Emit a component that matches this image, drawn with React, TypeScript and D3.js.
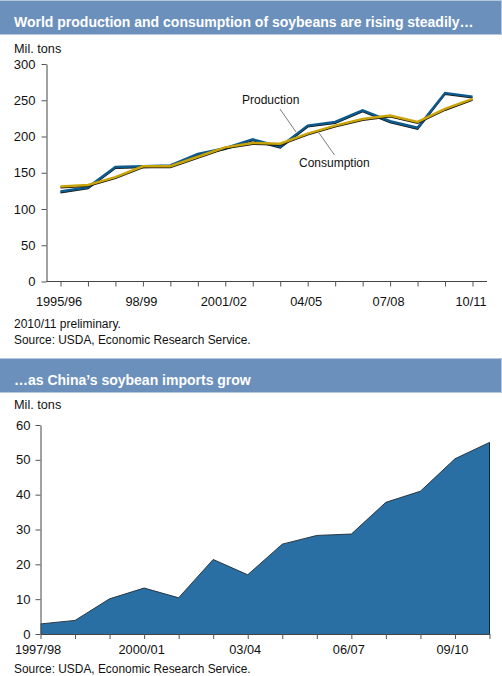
import { useRef, useEffect } from 'react';
import * as d3 from 'd3';

const worldYears = ['1995/96', '96/97', '97/98', '98/99', '99/00', '2000/01', '2001/02', '02/03', '03/04', '04/05', '05/06', '06/07', '07/08', '08/09', '09/10', '10/11'];
const production = [124, 130, 158, 159, 160, 176, 184, 196, 186, 215, 220, 236, 221, 212, 260, 255];
const consumption = [131, 133, 144, 159, 159, 172, 185, 191, 190, 204, 215, 224, 229, 220, 238, 252];
const worldTicks = [0, 50, 100, 150, 200, 250, 300];
const worldLabels = ['1995/96', '98/99', '2001/02', '04/05', '07/08', '10/11'];

const chinaYears = ['1997/98', '98/99', '99/00', '2000/01', '01/02', '02/03', '03/04', '04/05', '05/06', '06/07', '07/08', '08/09', '09/10', '10/11'];
const chinaImports = [2.9, 3.9, 10.1, 13.2, 10.4, 21.4, 17, 25.8, 28.3, 28.7, 37.8, 41, 50.3, 55];
const chinaTicks = [0, 10, 20, 30, 40, 50, 60];
const chinaLabels = ['1997/98', '2000/01', '03/04', '06/07', '09/10'];

const FONT = '"Liberation Sans", Arial, sans-serif';
const BAND = '#6b90bc';

export default function App() {
  const chartRef = useRef<SVGSVGElement | null>(null);

  useEffect(() => {
    if (!chartRef.current) return;

    const svg = d3.select(chartRef.current);
    svg.selectAll('*').remove();
    svg.attr('font-family', FONT);

    // Title bands
    const band = (y: number, label: string) => {
      svg.append('rect').attr('x', 0).attr('y', y).attr('width', 502).attr('height', 35).attr('fill', '#b5c8de');
      svg.append('rect').attr('x', 0).attr('y', y + 1).attr('width', 501).attr('height', 33).attr('fill', BAND);
      svg.append('text').text(label)
        .attr('x', 14).attr('y', y + 27)
        .attr('font-size', '14px').attr('font-weight', 'bold').attr('fill', 'white');
    };
    band(0, 'World production and consumption of soybeans are rising steadily…');
    band(358, '…as China’s soybean imports grow');

    const note = (x: number, y: number, label: string, size = 12) => {
      svg.append('text').text(label)
        .attr('x', x).attr('y', y)
        .attr('font-size', size).attr('fill', '#111');
    };

    const styleAxis = (g: d3.Selection<SVGGElement, unknown, null, undefined>, size: number) => {
      g.attr('font-family', FONT).attr('font-size', size);
      g.selectAll('text').attr('fill', '#111');
      g.selectAll('line').attr('stroke', '#555');
      g.select('.domain').attr('stroke', '#444');
    };

    // Top chart: production and consumption
    const x1 = d3.scalePoint<string>().domain(worldYears).range([60.5, 472.5]);
    const y1 = d3.scaleLinear().domain([0, 300]).range([281.5, 64]);

    const left1 = svg.append('g').attr('transform', 'translate(46.5,0)')
      .call(d3.axisLeft(y1).tickValues(worldTicks).tickSize(5).tickSizeOuter(0).tickPadding(6));
    styleAxis(left1, 13);
    left1.selectAll('text').attr('dy', '0.62em').attr('transform', 'translate(0,-4)');

    const bottom1 = svg.append('g').attr('transform', 'translate(0,281.5)')
      .call(d3.axisBottom(x1).tickFormat((d) => (worldLabels.includes(d) ? d : '')).tickSize(5).tickSizeOuter(0).tickPadding(10));
    styleAxis(bottom1, 12.8);
    bottom1.select('.domain').attr('d', 'M46.5,0H487');
    bottom1.selectAll('text').attr('dx', -2);

    const line1 = d3.line<number>()
      .x((_, i) => x1(worldYears[i]) || 0)
      .y((d) => y1(d));

    const drawLine = (values: number[], color: string) => {
      svg.append('path').attr('d', line1(values))
        .attr('transform', 'translate(0,1)')
        .attr('fill', 'none').attr('stroke', '#111').attr('stroke-width', 2);
      svg.append('path').attr('d', line1(values))
        .attr('fill', 'none').attr('stroke', color).attr('stroke-width', 2.5);
    };
    drawLine(production, '#0f5a8c');
    drawLine(consumption, '#c9a408');

    // Series labels and leaders
    const leader = (xa: number, ya: number, xb: number, yb: number) => {
      svg.append('line').attr('x1', xa).attr('y1', ya).attr('x2', xb).attr('y2', yb)
        .attr('stroke', '#444').attr('stroke-width', 0.7);
    };
    note(242, 104, 'Production');
    leader(280, 109, 296, 132);
    note(299, 167, 'Consumption');
    leader(319, 133, 334.5, 155);

    note(14, 53, 'Mil. tons', 12.7);
    note(14, 327.5, '2010/11 preliminary.');
    note(14, 343.5, 'Source: USDA, Economic Research Service.', 11.9);

    // Bottom chart: China imports
    const x2 = d3.scalePoint<string>().domain(chinaYears).range([40.5, 489.5]);
    const y2 = d3.scaleLinear().domain([0, 60]).range([634, 425]);

    const area2 = d3.area<number>()
      .x((_, i) => x2(chinaYears[i]) || 0)
      .y0(y2(0))
      .y1((d) => y2(d));
    const top2 = d3.line<number>()
      .x((_, i) => x2(chinaYears[i]) || 0)
      .y((d) => y2(d));

    svg.append('path').attr('d', area2(chinaImports)).attr('fill', '#2a6fa3');
    svg.append('path').attr('d', top2(chinaImports))
      .attr('fill', 'none').attr('stroke', '#1c2a33').attr('stroke-width', 0.9);
    svg.append('line')
      .attr('x1', x2('10/11') || 0).attr('x2', x2('10/11') || 0)
      .attr('y1', y2(55)).attr('y2', y2(0))
      .attr('stroke', '#0d2638').attr('stroke-width', 1);

    const left2 = svg.append('g').attr('transform', 'translate(40.5,0)')
      .call(d3.axisLeft(y2).tickValues(chinaTicks).tickSize(5).tickSizeOuter(0).tickPadding(5));
    styleAxis(left2, 13);
    left2.selectAll('text').attr('dy', '0.62em').attr('transform', 'translate(0,-4)');

    const bottom2 = svg.append('g').attr('transform', 'translate(0,634)')
      .call(d3.axisBottom(x2).tickFormat((d) => (chinaLabels.includes(d) ? d : '')).tickSize(5).tickSizeOuter(0).tickPadding(6));
    styleAxis(bottom2, 12.8);
    bottom2.selectAll('text').attr('dx', -3);

    note(14, 409, 'Mil. tons', 12.7);
    note(14, 673, 'Source: USDA, Economic Research Service.', 11.9);
  }, []);

  return (
    <div>
      <svg ref={chartRef} width={502} height={676} style={{ position: 'absolute', left: 0, top: 0 }}></svg>
    </div>
  );
}
